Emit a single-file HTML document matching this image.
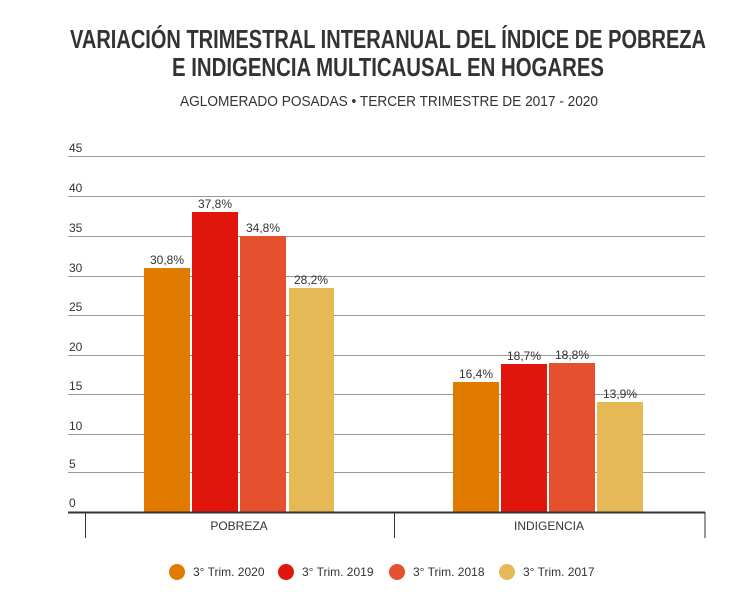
<!DOCTYPE html><html><head><meta charset="utf-8"><style>body{margin:0;background:#fff;font-family:"Liberation Sans",sans-serif}</style></head><body>
<svg width="756" height="590" xmlns="http://www.w3.org/2000/svg" font-family="Liberation Sans, sans-serif">
<rect width="756" height="590" fill="#fff"/>
<text x="388" y="48" text-anchor="middle" font-size="26" font-weight="bold" fill="#333" textLength="636" lengthAdjust="spacingAndGlyphs">VARIACIÓN TRIMESTRAL INTERANUAL DEL ÍNDICE DE POBREZA</text>
<text x="388" y="76" text-anchor="middle" font-size="26" font-weight="bold" fill="#333" textLength="432" lengthAdjust="spacingAndGlyphs">E INDIGENCIA MULTICAUSAL EN HOGARES</text>
<text x="389" y="106" text-anchor="middle" font-size="15" fill="#333" textLength="418" lengthAdjust="spacingAndGlyphs">AGLOMERADO POSADAS • TERCER TRIMESTRE DE 2017 - 2020</text>
<g stroke="#999" stroke-width="1">
<line x1="68" x2="705" y1="156.5" y2="156.5"/><line x1="68" x2="705" y1="196.5" y2="196.5"/><line x1="68" x2="705" y1="236.5" y2="236.5"/><line x1="68" x2="705" y1="276.5" y2="276.5"/><line x1="68" x2="705" y1="315.5" y2="315.5"/><line x1="68" x2="705" y1="355.5" y2="355.5"/><line x1="68" x2="705" y1="394.5" y2="394.5"/><line x1="68" x2="705" y1="434.5" y2="434.5"/><line x1="68" x2="705" y1="472.5" y2="472.5"/>
</g>
<g font-size="12" fill="#333">
<text x="69" y="152">45</text><text x="69" y="192">40</text><text x="69" y="232">35</text><text x="69" y="272">30</text><text x="69" y="311">25</text><text x="69" y="351">20</text><text x="69" y="390">15</text><text x="69" y="430">10</text><text x="69" y="468">5</text><text x="69" y="507">0</text>
</g>
<rect x="144" y="268" width="46" height="244" fill="#e07b00"/>
<rect x="192" y="212" width="46" height="300" fill="#e0160c"/>
<rect x="240" y="236" width="46" height="276" fill="#e5502f"/>
<rect x="289" y="288" width="45" height="224" fill="#e5b955"/>
<rect x="453" y="382" width="46" height="130" fill="#e07b00"/>
<rect x="501" y="364" width="46" height="148" fill="#e0160c"/>
<rect x="549" y="363" width="46" height="149" fill="#e5502f"/>
<rect x="597" y="402" width="46" height="110" fill="#e5b955"/>
<g font-size="12" fill="#333" text-anchor="middle">
<text x="167" y="264">30,8%</text><text x="215" y="208">37,8%</text><text x="263" y="232">34,8%</text><text x="311" y="284">28,2%</text>
<text x="476" y="378">16,4%</text><text x="524" y="360">18,7%</text><text x="572" y="359">18,8%</text><text x="620" y="398">13,9%</text>
</g>
<line x1="68" x2="705" y1="512.5" y2="512.5" stroke="#333" stroke-width="2"/>
<g stroke="#333" stroke-width="1"><line x1="85.5" x2="85.5" y1="512" y2="538"/><line x1="394.5" x2="394.5" y1="512" y2="538"/><line x1="705" x2="705" y1="512" y2="538"/></g>
<text x="239" y="530" font-size="12" fill="#333" text-anchor="middle">POBREZA</text>
<text x="549" y="530" font-size="12" fill="#333" text-anchor="middle">INDIGENCIA</text>
<g font-size="12" fill="#333">
<circle cx="177" cy="572" r="8" fill="#e07b00"/><text x="193" y="576">3° Trim. 2020</text>
<circle cx="286" cy="572" r="8" fill="#e0160c"/><text x="302" y="576">3° Trim. 2019</text>
<circle cx="397" cy="572" r="8" fill="#e5502f"/><text x="413" y="576">3° Trim. 2018</text>
<circle cx="507" cy="572" r="8" fill="#e5b955"/><text x="523" y="576">3° Trim. 2017</text>
</g>
</svg></body></html>
